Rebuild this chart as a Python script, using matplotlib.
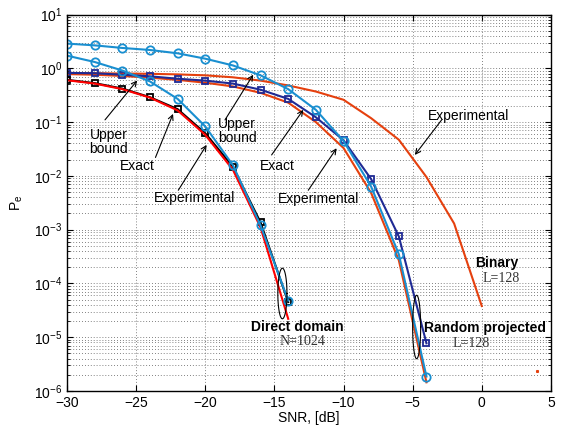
import numpy as np
import matplotlib
matplotlib.use('Agg')
import matplotlib.pyplot as plt

plt.rcParams['font.family'] = ['Liberation Sans', 'DejaVu Sans']
plt.rcParams['mathtext.fontset'] = 'custom'
plt.rcParams['mathtext.rm'] = 'Liberation Sans'
plt.rcParams['mathtext.it'] = 'Liberation Sans:italic'
plt.rcParams['mathtext.bf'] = 'Liberation Sans:bold'

# direct domain, N=1024
snr_d = [-30, -28, -26, -24, -22, -20, -18, -16, -14]
direct_exact = [0.61, 0.53, 0.42, 0.29, 0.174, 0.062, 0.0148, 0.00136, 4.5e-5]
direct_upper = [1.72, 1.31, 0.91, 0.57, 0.27, 0.083, 0.0158, 0.0012, 4.8e-5]
direct_exp = [0.60, 0.52, 0.41, 0.285, 0.165, 0.058, 0.013, 0.0011, 2.2e-5]

# random projected, L=128
snr_r = [-30, -28, -26, -24, -22, -20, -18, -16, -14, -12, -10, -8, -6, -4]
rand_upper = [2.88, 2.67, 2.39, 2.19, 1.90, 1.51, 1.13, 0.74, 0.41, 0.169, 0.0446, 0.0063, 3.5e-4, 1.86e-6]
rand_exact = [0.82, 0.81, 0.76, 0.71, 0.64, 0.59, 0.52, 0.40, 0.27, 0.123, 0.046, 0.0087, 7.5e-4, 7.7e-6]
rand_exp = [0.78, 0.76, 0.72, 0.67, 0.61, 0.54, 0.46, 0.35, 0.23, 0.10, 0.033, 0.0048, 2.7e-4, 1.45e-6]

# binary, L=128
snr_b = [-30, -28, -26, -24, -22, -20, -18, -16, -14, -12, -10, -8, -6, -4, -2, 0]
binary_exp = [0.82, 0.81, 0.80, 0.79, 0.77, 0.74, 0.68, 0.59, 0.48, 0.37, 0.26, 0.118, 0.047, 0.0095, 0.0013, 3.8e-5]

lblue = '#1a8fd0'
dblue = '#1f2a94'
ored = '#e5400e'

fig = plt.figure(figsize=(5.61, 4.32), dpi=100)
ax = fig.add_axes([0.1194, 0.0949, 0.8626, 0.8715])

ax.plot(snr_b, binary_exp, color=ored, lw=1.5)
ax.plot(snr_r, rand_exp, color=ored, lw=1.5)
ax.plot(snr_r, rand_exact, color=dblue, lw=1.5, marker='s', ms=5, mfc='none', mew=1.3)
ax.plot(snr_r, rand_upper, color=lblue, lw=1.5, marker='o', ms=6, mfc='none', mew=1.3)
ax.plot(snr_d, direct_exact, color='k', lw=1.5, marker='s', ms=5, mfc='none', mew=1.3)
ax.plot(snr_d, direct_exp, color='red', lw=1.5)
ax.plot(snr_d, direct_upper, color=lblue, lw=1.5, marker='o', ms=6, mfc='none', mew=1.3)
ax.plot([4.03], [2.4e-6], 's', color=ored, ms=1.2)

ax.set_yscale('log')
ax.set_xlim(-30, 5)
ax.set_ylim(1e-6, 10)
ax.set_xticks(np.arange(-30, 6, 5))
ax.grid(True, which='major', ls=(0, (1, 2.5)), color='0.35', lw=0.6)
ax.grid(True, which='minor', axis='y', ls=(0, (1, 2.5)), color='0.35', lw=0.6)
ax.tick_params(which='both', direction='in', top=True, right=True, labelsize=10)
ax.tick_params(which='major', length=4)
ax.tick_params(which='minor', length=2)
for s in ax.spines.values():
    s.set_linewidth(1.0)

ax.set_xlabel('SNR, [dB]', fontsize=10, labelpad=1)
ax.set_ylabel('P$_\\mathregular{e}$', fontsize=10, labelpad=6)

# ellipses around the curve ends (dB half-width, decade half-height)
t = np.linspace(0, 2 * np.pi, 100)
for cx, cy, a, b in [(-14.42, 6.5e-5, 0.33, 0.47), (-4.71, 1.55e-5, 0.29, 0.59)]:
    ax.plot(cx + a * np.cos(t), 10 ** (np.log10(cy) + b * np.sin(t)), color='k', lw=0.8)

arw = dict(arrowstyle='->', color='k', lw=0.8, shrinkA=0, shrinkB=0, mutation_scale=9)
notes = [
    ('Upper\nbound', (-27.0, 0.043), (-27.25, 0.11), (-24.92, 0.594)),
    ('Exact', (-24.9, 0.015), (-23.6, 0.022), (-22.33, 0.142)),
    ('Experimental', (-20.8, 0.0039), (-21.95, 0.0054), (-19.9, 0.0376)),
    ('Upper\nbound', (-17.7, 0.0686), (-18.57, 0.11), (-16.53, 0.76)),
    ('Exact', (-14.8, 0.015), (-15.2, 0.0245), (-12.91, 0.169)),
    ('Experimental', (-11.78, 0.0037), (-12.55, 0.0054), (-10.5, 0.0326)),
    ('Experimental', (-0.93, 0.13), (-2.9, 0.11), (-4.84, 0.0245)),
]
for txt, pos, tail, head in notes:
    ax.annotate('', xy=head, xytext=tail, arrowprops=arw)
    ax.text(pos[0], pos[1], txt, ha='center', va='center', fontsize=10, linespacing=1.0)

ax.text(-13.33, 1.58e-5, 'Direct domain', ha='center', va='center', fontsize=10, fontweight='bold')
ax.text(-12.97, 8.3e-6, 'N=1024', ha='center', va='center', fontsize=10,
        family='Liberation Serif', color='#333333')
ax.text(0.22, 1.48e-5, 'Random projected', ha='center', va='center', fontsize=10, fontweight='bold')
ax.text(-0.79, 7.8e-6, 'L=128', ha='center', va='center', fontsize=10,
        family='Liberation Serif', color='#333333')
ax.text(1.1, 2.4e-4, 'Binary', ha='center', va='center', fontsize=10, fontweight='bold')
ax.text(1.38, 1.26e-4, 'L=128', ha='center', va='center', fontsize=10,
        family='Liberation Serif', color='#333333')

fig.savefig('out.png', dpi=100)
